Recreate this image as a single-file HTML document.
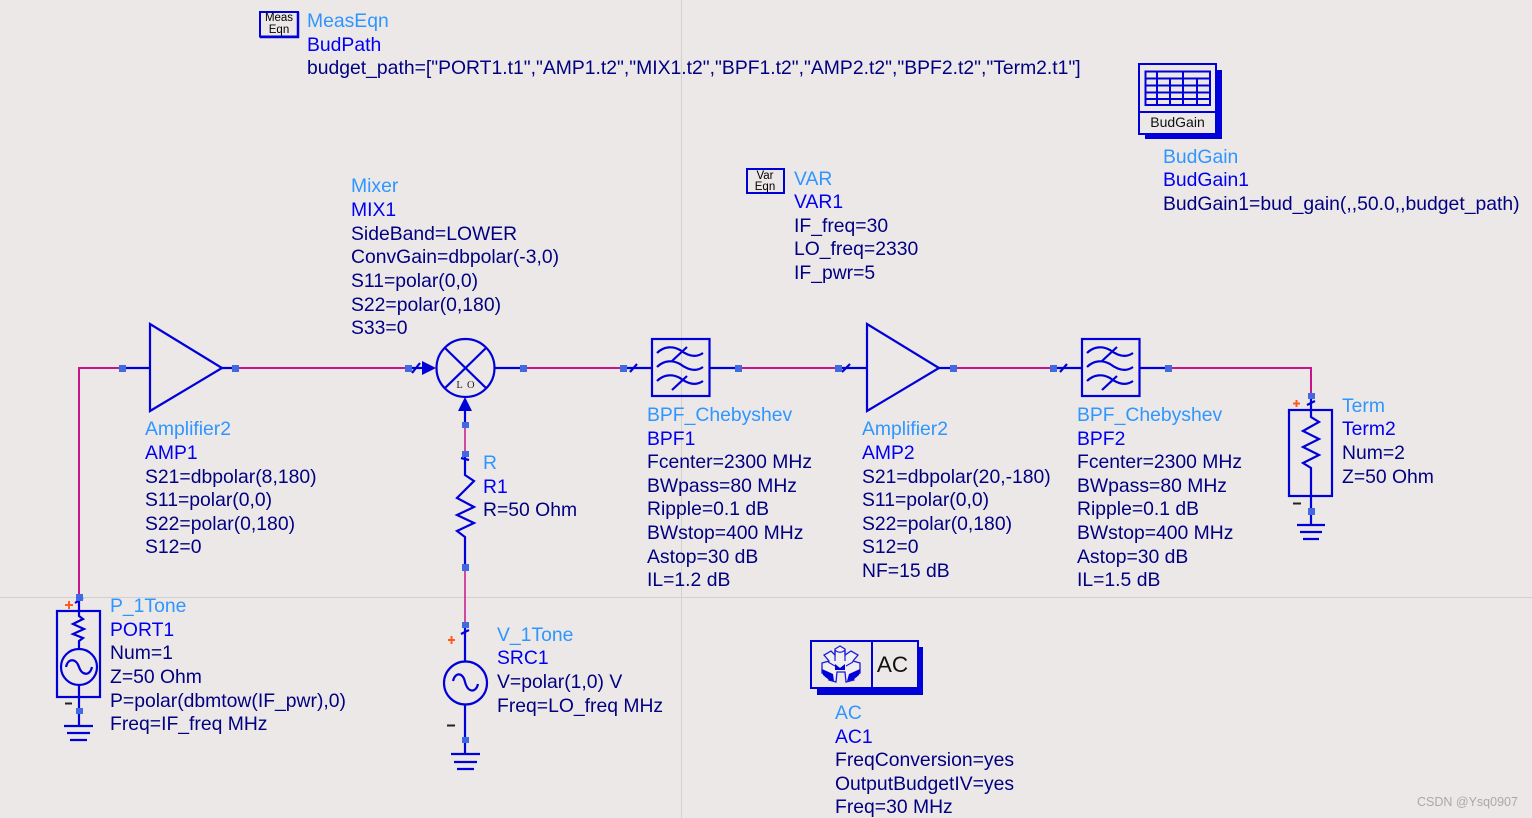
<!DOCTYPE html>
<html><head><meta charset="utf-8"><style>
html,body{margin:0;padding:0;background:#ece8e8;width:1532px;height:818px;overflow:hidden}
svg{display:block}
text{font-family:"Liberation Sans",Arial,sans-serif;font-size:19.350px;fill:#000080}
.a{fill:#2e96ff}.b{fill:#0000ee}
.w{stroke:#c8148c;stroke-width:2;fill:none}
.t{stroke:#c8148c;stroke-width:1.500;fill:none}
.l{stroke:#0000d8;stroke-width:2.200;fill:none}
.p{fill:#4169e1}
.s{font-size:11.500px;fill:#000;text-anchor:middle}
.pl{stroke:#ff5a1e;stroke-width:2}
.mi{stroke:#222;stroke-width:2}
</style></head><body>
<svg width="1532" height="818" viewBox="0 0 1532 818" xmlns="http://www.w3.org/2000/svg">
<rect width="1532" height="818" fill="#ece8e8"/>
<path d="M681.500 0V818M0 597.500H1532" stroke="#d2d0d0" stroke-width="1"/>

<!-- wires -->
<path class="w" d="M79 597V368H123M236 368H408M523 368H623M738 368H838M953 368H1053M1168 368H1311V396"/>
<path class="t" d="M465 425V454M465 568V625"/>

<!-- Amp1 -->
<path class="l" d="M123 368H150M150 324V411L222 368L150 324ZM222 368H236"/>
<!-- Amp2 -->
<path class="l" d="M838 368H867M867 324V411L939 368L867 324ZM939 368H953"/>
<path class="l" d="M842 372L850 364" stroke-width="1.500"/>

<!-- Mixer -->
<circle class="l" cx="465.500" cy="368" r="29"/>
<path class="l" d="M445 348L486 388M486 348L445 388M408 368H424M412 373L420 363M495 368H523M465 411V425"/>
<path d="M422 361L436 368L422 375ZM465 397L458 411H472Z" fill="#0000d8"/>
<text x="466" y="388" style="font-family:'Liberation Serif',serif;font-size:10.500px;letter-spacing:1px;fill:#222" text-anchor="middle">L O</text>

<!-- BPF1 -->
<g id="f1">
<rect class="l" x="652" y="339" width="57.500" height="57"/>
<path class="l" stroke-width="1.800" d="M657 353C664 346 673 346 680 350C688 356 696 358 703 353M657 367C664 360 673 360 680 364C688 370 696 372 703 367M657 381C664 374 673 374 680 378C688 384 696 386 703 381M672 361L687 347M672 390L687 376"/>
<path class="l" d="M623 368H652M630 372L637 364M710 368H738"/>
</g>
<!-- BPF2 -->
<use href="#f1" x="430"/>

<!-- R -->
<path class="l" d="M465 454V475L474 481L457 498L474 507L457 515L474 523L457 531L465 537V567M461 458L469 460"/>

<!-- P_1Tone -->
<rect class="l" x="57" y="611" width="43" height="86"/>
<path class="l" d="M79 597V616L83 619L73 624L84 629L73 634L83 638L79 641V649M79 685V726M64 726H93M67 733H90M70 740H87M75 603L83 598"/>
<circle class="l" cx="79" cy="667" r="18"/>
<path class="l" d="M66 667C68 658 76 658 79 667C82 676 90 676 92 667"/>
<path class="pl" d="M65 605H73M69 601V609"/>
<path class="mi" d="M65 703.500H72"/>

<!-- V_1Tone -->
<path class="l" d="M465 625V661M465 705V754M451 754H480M454 762H477M457 769H474M461 634L469 630"/>
<circle class="l" cx="465.500" cy="683" r="21.500"/>
<path class="l" d="M453 681C455 672 463 672 465 682C468 693 476 693 478 684" />
<path class="pl" d="M448 640H455M451.500 636V644"/>
<path class="mi" d="M447 725.500H455"/>

<!-- Term -->
<rect class="l" x="1289" y="410" width="43" height="86"/>
<path class="l" d="M1311 396V417L1319 422L1303 431L1319 439L1303 447L1319 455L1303 463L1311 468V525M1297 525H1325M1300 532H1322M1303 539H1319M1307 405L1315 401"/>
<path class="pl" d="M1293 403.500H1300M1296.500 400V407"/>
<path class="mi" d="M1293 503.500H1301"/>

<!-- pins -->
<g class="p">
<rect x="119" y="365" width="7" height="7"/><rect x="232" y="365" width="7" height="7"/>
<rect x="405" y="365" width="7" height="7"/><rect x="520" y="365" width="7" height="7"/>
<rect x="620" y="365" width="7" height="7"/><rect x="735" y="365" width="7" height="7"/>
<rect x="835" y="365" width="7" height="7"/><rect x="950" y="365" width="7" height="7"/>
<rect x="1050" y="365" width="7" height="7"/><rect x="1165" y="365" width="7" height="7"/>
<rect x="1308" y="393" width="7" height="6"/><rect x="1308" y="508" width="7" height="7"/>
<rect x="76" y="594" width="7" height="7"/><rect x="76" y="708" width="7" height="6"/>
<rect x="462" y="422" width="7" height="6"/><rect x="462" y="451" width="7" height="6"/><rect x="462" y="564" width="7" height="7"/>
<rect x="462" y="622" width="7" height="6"/><rect x="462" y="737" width="7" height="6"/>
</g>

<!-- MeasEqn icon -->
<rect x="260" y="12" width="38" height="24.500" fill="#ece8e8" stroke="#0000d8" stroke-width="2"/>
<path d="M298 12V37H260" stroke="#0000d8" stroke-width="2.500" fill="none"/>
<text class="s" x="279" y="21">Meas</text><text class="s" x="279" y="33">Eqn</text>
<!-- VAR icon -->
<rect x="747" y="169" width="37" height="24" fill="#ece8e8" stroke="#0000d8" stroke-width="2"/>
<text class="s" x="765" y="179">Var</text><text class="s" x="765" y="190">Eqn</text>

<!-- BudGain icon -->
<rect x="1145" y="70" width="77" height="69" fill="#0000d8"/>
<rect x="1139" y="64" width="77" height="70" fill="#ece8e8" stroke="#0000d8" stroke-width="2"/>
<path d="M1139 112H1216" stroke="#0000d8" stroke-width="2"/>
<path d="M1145.500 71.500H1210V105H1145.500ZM1145.500 78.500H1210M1145.500 85.500H1210M1145.500 92.500H1210M1145.500 99H1210M1157 71.500V105M1183 71.500V105M1170 78.500V105M1197 78.500V105" stroke="#0000d8" stroke-width="2" fill="none"/>
<text x="1177.500" y="127" style="font-size:14px;fill:#111" text-anchor="middle">BudGain</text>

<!-- AC icon -->
<rect x="817" y="647" width="106" height="48" fill="#0000d8"/>
<rect x="811" y="641" width="107" height="47" fill="#ece8e8" stroke="#0000d8" stroke-width="2"/>
<path d="M872 641V688" stroke="#0000d8" stroke-width="2"/>
<path d="M835 649L840 646L845 649V655L851 651L858 655L853 661L860 663V673L852 676L854 680L846 682L845 672H837L836 682L829 680L830 676L822 673V663L829 661L824 655L831 651L835 655Z" fill="#f2efef" stroke="#1a1ae0" stroke-width="1.300"/>
<path d="M822 669L833 674L834 681L829 680L823 675ZM860 669L849 674L847 681L853 680L859 675ZM835 664L840 668L845 664V670H835Z" fill="#0000d8"/>
<path d="M835 650V661M845 650V661M835 650C838 653 842 653 845 650M828 662L835 666M853 662L846 666" stroke="#1a1ae0" stroke-width="1.200" fill="none"/>
<text x="892.500" y="672" style="font-size:22.500px;fill:#111" text-anchor="middle">AC</text>

<!-- labels -->
<g>
<text class="a" x="307" y="27">MeasEqn</text><text class="b" x="307" y="51">BudPath</text>
<text x="307" y="74">budget_path=["PORT1.t1","AMP1.t2","MIX1.t2","BPF1.t2","AMP2.t2","BPF2.t2","Term2.t1"]</text>

<text class="a" x="1163" y="163">BudGain</text><text class="b" x="1163" y="186">BudGain1</text>
<text x="1163" y="210">BudGain1=bud_gain(,,50.0,,budget_path)</text>

<text class="a" x="794" y="185">VAR</text><text class="b" x="794" y="208">VAR1</text>
<text x="794" y="232">IF_freq=30</text><text x="794" y="255">LO_freq=2330</text><text x="794" y="279">IF_pwr=5</text>

<text class="a" x="351" y="192">Mixer</text><text class="b" x="351" y="216">MIX1</text>
<text x="351" y="240">SideBand=LOWER</text><text x="351" y="263">ConvGain=dbpolar(-3,0)</text>
<text x="351" y="287">S11=polar(0,0)</text><text x="351" y="311">S22=polar(0,180)</text><text x="351" y="334">S33=0</text>

<text class="a" x="145" y="435">Amplifier2</text><text class="b" x="145" y="459">AMP1</text>
<text x="145" y="483">S21=dbpolar(8,180)</text><text x="145" y="506">S11=polar(0,0)</text>
<text x="145" y="530">S22=polar(0,180)</text><text x="145" y="553">S12=0</text>

<text class="a" x="647" y="421">BPF_Chebyshev</text><text class="b" x="647" y="445">BPF1</text>
<text x="647" y="468">Fcenter=2300 MHz</text><text x="647" y="492">BWpass=80 MHz</text>
<text x="647" y="515">Ripple=0.1 dB</text><text x="647" y="539">BWstop=400 MHz</text>
<text x="647" y="563">Astop=30 dB</text><text x="647" y="586">IL=1.2 dB</text>

<text class="a" x="862" y="435">Amplifier2</text><text class="b" x="862" y="459">AMP2</text>
<text x="862" y="483">S21=dbpolar(20,-180)</text><text x="862" y="506">S11=polar(0,0)</text>
<text x="862" y="530">S22=polar(0,180)</text><text x="862" y="553">S12=0</text><text x="862" y="577">NF=15 dB</text>

<text class="a" x="1077" y="421">BPF_Chebyshev</text><text class="b" x="1077" y="445">BPF2</text>
<text x="1077" y="468">Fcenter=2300 MHz</text><text x="1077" y="492">BWpass=80 MHz</text>
<text x="1077" y="515">Ripple=0.1 dB</text><text x="1077" y="539">BWstop=400 MHz</text>
<text x="1077" y="563">Astop=30 dB</text><text x="1077" y="586">IL=1.5 dB</text>

<text class="a" x="1342" y="412">Term</text><text class="b" x="1342" y="435">Term2</text>
<text x="1342" y="459">Num=2</text><text x="1342" y="483">Z=50 Ohm</text>

<text class="a" x="483" y="469">R</text><text class="b" x="483" y="493">R1</text><text x="483" y="516">R=50 Ohm</text>

<text class="a" x="110" y="612">P_1Tone</text><text class="b" x="110" y="636">PORT1</text>
<text x="110" y="659">Num=1</text><text x="110" y="683">Z=50 Ohm</text>
<text x="110" y="707">P=polar(dbmtow(IF_pwr),0)</text><text x="110" y="730">Freq=IF_freq MHz</text>

<text class="a" x="497" y="641">V_1Tone</text><text class="b" x="497" y="664">SRC1</text>
<text x="497" y="688">V=polar(1,0) V</text><text x="497" y="712">Freq=LO_freq MHz</text>

<text class="a" x="835" y="719">AC</text><text class="b" x="835" y="743">AC1</text>
<text x="835" y="766">FreqConversion=yes</text><text x="835" y="790">OutputBudgetIV=yes</text><text x="835" y="813">Freq=30 MHz</text>
</g>

<text x="1417" y="806" style="font-size:12.500px;fill:#a8a8a8">CSDN @Ysq0907</text>
</svg>
</body></html>
